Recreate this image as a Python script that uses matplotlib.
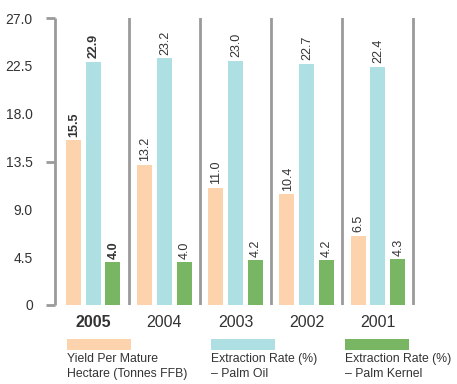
import matplotlib.pyplot as plt
from matplotlib.patches import Rectangle

years = ["2005", "2004", "2003", "2002", "2001"]
yield_ffb = [15.5, 13.2, 11.0, 10.4, 6.5]
palm_oil = [22.9, 23.2, 23.0, 22.7, 22.4]
palm_kernel = [4.0, 4.0, 4.2, 4.2, 4.3]
legend_labels = ["Yield Per Mature\nHectare (Tonnes FFB)",
                 "Extraction Rate (%)\n\u2013 Palm Oil",
                 "Extraction Rate (%)\n\u2013 Palm Kernel"]
yticks = [0, 4.5, 9.0, 13.5, 18.0, 22.5, 27.0]
ytick_labels = ["0", "4.5", "9.0", "13.5", "18.0", "22.5", "27.0"]

colors = ["#FDD3AE", "#AEDFE3", "#78B663"]
grey = "#9A9A9C"
txt = "#333333"
plt.rcParams['font.family'] = ['Liberation Sans', 'DejaVu Sans']

fig = plt.figure(figsize=(4.57, 3.84), dpi=100)
ax = fig.add_axes([55 / 457, 79 / 384, 362 / 457, 287 / 384])

w = 0.21
offs = [-0.278, 0.0, 0.278]
series = [yield_ffb, palm_oil, palm_kernel]
x = list(range(len(years)))
for s, vals in enumerate(series):
    xs = [i + offs[s] for i in x]
    ax.bar(xs, vals, width=w, color=colors[s], linewidth=0)
    for i, v in enumerate(vals):
        bold = (i == 0)
        ax.text(xs[i] + 0.01, v + 0.35, f"{v:.1f}", rotation=90, ha="center", va="bottom",
                fontsize=9, color=txt, fontweight="bold" if bold else "normal")

for i in x:
    ax.axvline(i + 0.5, ymin=0, ymax=1, color=grey, linewidth=2)

ax.set_xlim(-0.535, 4.55)
ax.set_ylim(0, 27)
for side in ["top", "right", "bottom"]:
    ax.spines[side].set_visible(False)
ax.spines["left"].set_color(grey)
ax.spines["left"].set_linewidth(2)
ax.spines["left"].set_capstyle("butt")

ax.set_yticks(yticks)
ax.set_yticklabels(ytick_labels, fontsize=10, color=txt)
ax.tick_params(axis="y", length=0, pad=16)
ax.set_xticks([])
for yv in [0, 13.5, 27.0]:
    ax.plot([-0.66, -0.535], [yv, yv], color=grey, linewidth=2, clip_on=False,
            solid_capstyle="butt")

for i, yr in enumerate(years):
    ax.text(i, -1.6, yr, ha="center", va="center", fontsize=11.5, color=txt,
            fontweight="bold" if i == 0 else "normal", clip_on=False)

leg_x = [67, 211, 345]
for k in range(3):
    fig.patches.append(Rectangle((leg_x[k] / 457, 1 - 350 / 384), 64 / 457, 11 / 384,
                                 transform=fig.transFigure, color=colors[k], linewidth=0))
    fig.text(leg_x[k] / 457, 1 - 353 / 384, legend_labels[k], ha="left", va="top",
             fontsize=8.8, color=txt, linespacing=1.3)

fig.savefig("out.png", dpi=100)
